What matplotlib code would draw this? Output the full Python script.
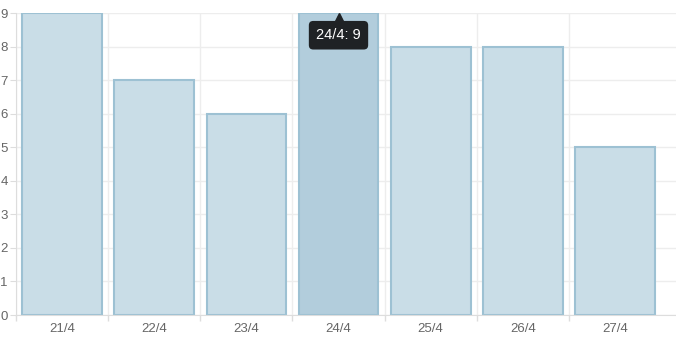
import matplotlib
matplotlib.use("Agg")
import matplotlib.pyplot as plt
from matplotlib.transforms import offset_copy
import numpy as np

plt.rcParams["font.family"] = ["Liberation Sans", "DejaVu Sans"]

days = ["21/4", "22/4", "23/4", "24/4", "25/4", "26/4", "27/4"]
counts = [9, 7, 6, 9, 8, 8, 5]
hover_index = 3

fill = "#c9dde7"
fill_hover = "#b2cddc"
edge = "#9dc1d3"
grid = "#ededed"
text_grey = "#666666"

fig = plt.figure(figsize=(6.76, 3.38), dpi=100)
ax = fig.add_axes([16 / 676, 23 / 338, 660 / 676, 302 / 338])

x = np.arange(len(days))
colors = [fill_hover if i == hover_index else fill for i in range(len(days))]
ax.bar(x, counts, width=0.865, color=colors, edgecolor=edge, linewidth=1.5, zorder=2)

ax.set_xlim(-0.5, 6.5 + 15 / 92.2)
ax.set_ylim(0, 9)

# grid: horizontal at integer ticks, vertical at category boundaries
ax.set_yticks(range(0, 10))
ax.set_xticks(x)
ax.set_xticklabels(days)
ax.set_xticks(np.arange(-0.5, len(days) - 0.5, 1.0), minor=True)
ax.grid(axis="y", which="major", color=grid, linewidth=1, zorder=0)
ax.grid(axis="x", which="minor", color=grid, linewidth=1, zorder=0)
ax.tick_params(axis="x", which="major", length=0, labelsize=9.5, colors=text_grey, pad=6)
ax.tick_params(axis="x", which="minor", length=4, color="#dddddd", width=1)
ax.tick_params(axis="y", length=4, labelsize=9.5, colors=text_grey, color="#dddddd", pad=2)

for side in ["top", "right"]:
    ax.spines[side].set_visible(False)
ax.spines["left"].set_color("#dddddd")
ax.spines["bottom"].set_color("#dddddd")

# tooltip on hovered bar
tip_x, tip_y = x[hover_index], counts[hover_index]
ax.annotate(
    f"{days[hover_index]}: {counts[hover_index]}",
    xy=(tip_x, tip_y),
    xytext=(0, -16),
    textcoords="offset points",
    ha="center",
    va="center",
    fontsize=10.5,
    color="white",
    bbox=dict(boxstyle="round,pad=0.5,rounding_size=0.3", facecolor="#1f2225", edgecolor="none"),
    zorder=5,
    annotation_clip=False,
)
caret = offset_copy(ax.transData, fig=fig, x=0, y=-3.3, units="points")
ax.plot(tip_x, tip_y, marker="^", markersize=7.5, color="#1f2225", transform=caret,
        zorder=6, clip_on=False)

fig.savefig("out.png", dpi=100)
